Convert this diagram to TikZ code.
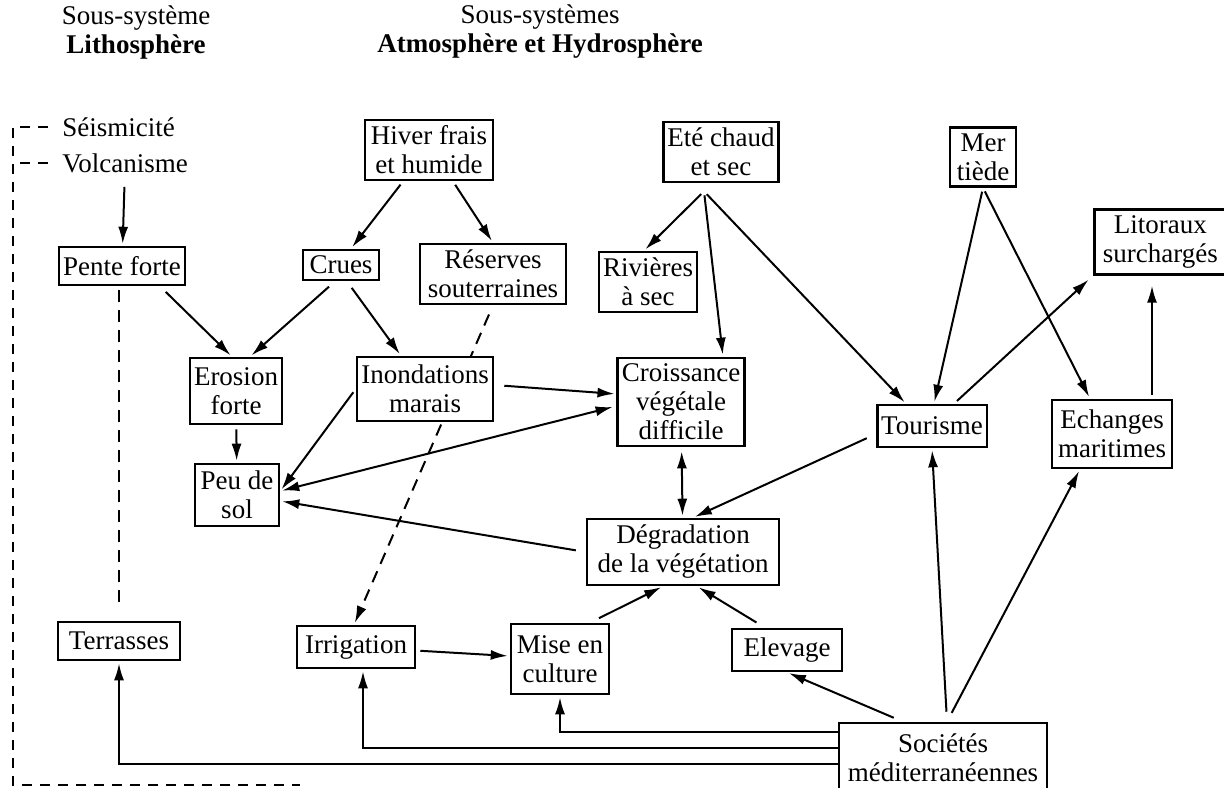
\documentclass[tikz,border=0pt]{standalone}
\usepackage{fontspec}
\setmainfont{Liberation Serif}
\usetikzlibrary{positioning, arrows.meta, backgrounds}
\tikzset{
    box/.style={draw, line width=1.3pt, fill=white, align=center, inner xsep=2pt, inner ysep=3pt},
    plain/.style={align=center, inner sep=0pt},
    conn/.style={->, line width=1pt, shorten <=2pt, shorten >=1pt},
    dashline/.style={line width=1pt, dash pattern=on 6pt off 4pt},
    frameline/.style={line width=1pt, dash pattern=on 5pt off 4pt}
}
\begin{document}
\begin{tikzpicture}[x=0.5pt, y=-0.5pt, >={Latex[length=8.5pt,width=5pt]}, font=\fontsize{13.5pt}{14.5pt}\selectfont]
  \useasboundingbox(0,0)rectangle(1224,787);
  \node(Lith)[plain] at (136,32){Sous-système\\\textbf{Lithosphère}};
  \node(Atmo)[plain] at (540,32){Sous-systèmes\\\textbf{Atmosphère et Hydrosphère}};
  \node(Sei)[plain, anchor=west] at (62,127){Séismicité};
  \node(Vol)[plain, anchor=west] at (62,163){Volcanisme};
  \coordinate(Fbot) at (13,785);
  \coordinate(Fend) at (300,785);
  \node(Pente)[box, minimum width=60pt, minimum height=19pt] at (122,266){Pente forte};
  \node(Terr)[box, minimum width=61pt, minimum height=19pt] at (119,641){Terrasses};
  \node(Hiver)[box, minimum width=64pt] at (429,150){Hiver frais\\et humide};
  \node(Crues)[box, minimum width=38pt, minimum height=15pt] at (341,265){Crues};
  \node(Reserv)[box, minimum width=73pt, minimum height=26pt] at (493,274){Réserves\\souterraines};
  \node(Ete)[box, minimum width=57pt, minimum height=30pt] at (721,152){Eté chaud\\et sec};
  \node(Riv)[box, minimum width=49pt, minimum height=30pt] at (648,282){Rivières\\à sec};
  \node(Erosion)[box, minimum width=45pt, minimum height=33pt] at (236,391){Erosion\\forte};
  \node(Peu)[box, minimum width=42pt, minimum height=31pt] at (237,495){Peu de\\sol};
  \node(Inond)[box, minimum width=68pt, minimum height=32pt] at (425,389){Inondations\\marais};
  \node(Crois)[box, minimum width=63pt, minimum height=44pt] at (681,402){Croissance\\végétale\\difficile};
  \node(Degr)[box, minimum width=96pt, minimum height=33pt] at (683,552){Dégradation\\de la végétation};
  \node(Irrig)[box, minimum width=59pt, minimum height=21pt] at (356,647){Irrigation};
  \node(Mise)[box, minimum width=49pt, minimum height=35pt] at (560,659){Mise en\\culture};
  \node(Elev)[box, minimum width=55pt, minimum height=21pt] at (787,650){Elevage};
  \node(Soc)[box, minimum width=104pt, minimum height=35pt] at (943,758){Sociétés\\méditerranéennes};
  \node(Tour)[box, minimum width=54pt, minimum height=21pt] at (932,426){Tourisme};
  \node(Ech)[box, minimum width=60pt, minimum height=34pt] at (1112,434){Echanges\\maritimes};
  \node(Lit)[box, minimum width=66pt, minimum height=31pt, anchor=west] at (1093,242){Litoraux\\surchargés};
  \node(Mer)[box, minimum width=33pt, minimum height=29pt] at (983,157){Mer\\tiède};
  \coordinate(Ef) at ([xshift=-8.5pt,yshift=-4pt]Ete.south);
  \draw[frameline, shorten <=7pt](Sei.west)--(Sei.west-|Fbot)--(Fbot)--(Fend);
  \draw[frameline, shorten <=7pt](Vol.west)--(Vol.west-|Fbot);
  \draw[conn, shorten <=7pt](Vol)--(Pente);
  \draw[conn]([xshift=-13pt]Hiver.south)--([xshift=5pt]Crues.north);
  \draw[conn]([xshift=12pt]Hiver.south)--(Reserv.north);
  \draw[conn](Ef)--([xshift=-2pt]Riv.north);
  \draw[conn](Ef)--([xshift=21pt]Crois.north);
  \draw[conn](Ef)--([xshift=-13pt]Tour.north);
  \draw[conn](Mer.south)--([xshift=1pt]Tour.north);
  \draw[conn](Mer.south)--([xshift=-11pt]Ech.north);
  \draw[conn, shorten >=3pt]([xshift=11pt]Tour.north)--(Lit.south west);
  \draw[conn, shorten >=5pt]([xshift=20pt]Ech.north)--([xshift=20pt]Ech.north|-Lit.south);
  \draw[conn, shorten <=5pt]([xshift=-20pt]Soc.north)--(Elev.south);
  \draw[conn, shorten <=5pt]([xshift=2pt]Soc.north)--(Tour.south);
  \draw[conn, shorten <=5pt]([xshift=2pt]Soc.north)--([xshift=-16pt]Ech.south);
  \draw[conn, shorten <=0pt]([yshift=13pt]Soc.west)-|(Mise.south);
  \draw[conn, shorten <=0pt]([yshift=5pt]Soc.west)-|([xshift=3.5pt]Irrig.south);
  \draw[conn, shorten <=0pt]([yshift=-3pt]Soc.west)-|(Terr.south);
  \draw[conn](Irrig)--(Mise);
  \draw[conn, shorten <=5pt]([xshift=15pt]Mise.north)--([xshift=-10pt]Degr.south);
  \draw[conn, shorten <=5pt]([xshift=-11pt]Elev.north)--([xshift=7pt]Degr.south);
  \draw[conn, shorten <=5pt](Degr.west)--([yshift=-3pt]Peu.east);
  \draw[conn, <->]([yshift=-2pt]Crois.west)--([yshift=2pt]Peu.east);
  \draw[conn, shorten <=5pt]([yshift=2pt]Inond.east)--([yshift=4pt]Crois.west);
  \draw[conn](Inond.west)--([yshift=2pt]Peu.east);
  \draw[conn, <->](Crois)--(Degr);
  \draw[conn, shorten <=5pt]([yshift=-4pt]Tour.west)--([xshift=5pt]Degr.north);
  \draw[conn, shorten <=4pt]([xshift=-3pt]Crues.south)--([xshift=7pt]Erosion.north);
  \draw[conn, shorten <=4pt]([xshift=3pt]Crues.south)--([xshift=-12pt]Inond.north);
  \draw[conn, shorten <=4pt]([xshift=19pt]Pente.south)--([xshift=-2pt]Erosion.north);
  \draw[conn](Erosion)--(Peu);
  \draw[dashline, shorten <=2pt, shorten >=6pt](Pente.south-|Terr.north)--(Terr.north);
  \begin{scope}[on background layer]
    \draw[conn, dashline, shorten <=5pt](Reserv.south)--([xshift=-1pt]Irrig.north);
  \end{scope}
\end{tikzpicture}
\end{document}
